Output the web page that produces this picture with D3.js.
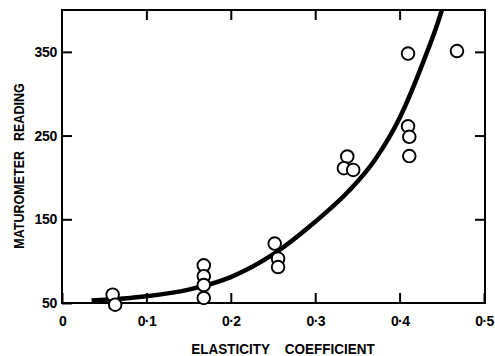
<!DOCTYPE html>
<html>
<head>
<meta charset="utf-8">
<script src="https://cdn.jsdelivr.net/npm/d3@7"></script>
<style>
  html, body { margin: 0; padding: 0; background: #fff; }
  svg { display: block; }
  text { font-family: "Liberation Sans", Arial, Helvetica, sans-serif; font-weight: bold; fill: #000; }
</style>
</head>
<body>
<svg id="chart" width="495" height="356"></svg>
<script>
// Measured samples: elasticity coefficient vs maturometer reading
const sampleX = [0.060, 0.063,
                 0.168, 0.168, 0.168, 0.168,
                 0.252, 0.256, 0.256,
                 0.338, 0.334, 0.345,
                 0.410, 0.468, 0.410, 0.4115, 0.4115];
const sampleY = [60, 48,
                 95, 82, 71.5, 56,
                 121, 103, 93,
                 225, 211, 209,
                 348, 351, 261, 248.5, 225.5];

// Fitted trend line (hand-read control points)
const fitX = [0.035, 0.10, 0.15, 0.20, 0.25, 0.30, 0.34, 0.37, 0.40, 0.428, 0.45, 0.455];
const fitY = [53,    58,   66,   81,   108,  147,  184,  220,  271,  338,   400,  418];

const xTicks = [0, 0.1, 0.2, 0.3, 0.4, 0.5];
const yTicks = [50, 150, 250, 350];

const svg = d3.select("#chart");
const plotL = 62, plotR = 484, plotT = 10, plotB = 303;

const x = d3.scaleLinear().domain([0, 0.5]).range([plotL, plotR]);
const y = d3.scaleLinear().domain([50, 400]).range([plotB, plotT]);

const fmtX = d => d === 0 ? "0" : d3.format(".1f")(d).replace(".", "\u00b7");

// clip for the trend line
svg.append("clipPath").attr("id", "plot-clip")
  .append("rect").attr("x", plotL).attr("y", plotT)
  .attr("width", plotR + 1 - plotL).attr("height", plotB - plotT);

// bottom axis with inward ticks and labels
const gx = svg.append("g").attr("transform", `translate(0,${plotB})`)
  .call(d3.axisBottom(x).tickValues(xTicks).tickFormat(fmtX)
        .tickSizeInner(-10).tickSizeOuter(0).tickPadding(13));
gx.select(".domain").remove();
gx.attr("font-family", null);
gx.selectAll("line").attr("stroke", "#000").attr("stroke-width", 2);
gx.selectAll("text").attr("font-size", 14).attr("letter-spacing", -0.6);

// top axis: ticks only
const gxt = svg.append("g").attr("transform", `translate(0,${plotT})`)
  .call(d3.axisTop(x).tickValues(xTicks.slice(1, -1)).tickFormat("")
        .tickSizeInner(-10).tickSizeOuter(0));
gxt.select(".domain").remove();
gxt.selectAll("line").attr("stroke", "#000").attr("stroke-width", 2);

// left axis with inward ticks and labels
const gy = svg.append("g").attr("transform", `translate(${plotL},0)`)
  .call(d3.axisLeft(y).tickValues(yTicks).tickFormat(d3.format("d"))
        .tickSizeInner(-10).tickSizeOuter(0).tickPadding(5));
gy.select(".domain").remove();
gy.attr("font-family", null);
gy.selectAll("line").attr("stroke", "#000").attr("stroke-width", 2);
gy.selectAll("text").attr("font-size", 14).attr("letter-spacing", -0.3);

// right axis: ticks only
const gyr = svg.append("g").attr("transform", `translate(${plotR + 1},0)`)
  .call(d3.axisRight(y).tickValues(yTicks.slice(1)).tickFormat("")
        .tickSizeInner(-10).tickSizeOuter(0));
gyr.select(".domain").remove();
gyr.selectAll("line").attr("stroke", "#000").attr("stroke-width", 2);

// plot frame
svg.append("rect")
  .attr("x", plotL).attr("y", plotT)
  .attr("width", plotR + 1 - plotL).attr("height", plotB - plotT)
  .attr("fill", "none").attr("stroke", "#000").attr("stroke-width", 2);

// trend line
const fitData = fitX.map((v, i) => [v, fitY[i]]);
svg.append("path")
  .datum(fitData)
  .attr("clip-path", "url(#plot-clip)")
  .attr("fill", "none").attr("stroke", "#000").attr("stroke-width", 4.5)
  .attr("stroke-linecap", "butt")
  .attr("d", d3.line().x(d => x(d[0])).y(d => y(d[1])).curve(d3.curveMonotoneX));

// sample points: open circles
const pts = sampleX.map((v, i) => [v, sampleY[i]]);
svg.append("g").selectAll("circle").data(pts).join("circle")
  .attr("cx", d => x(d[0])).attr("cy", d => y(d[1])).attr("r", 6.3)
  .attr("fill", "#fff").attr("stroke", "#000").attr("stroke-width", 1.9);

// axis titles
const xt = svg.append("text")
  .attr("transform", "translate(283,354) scale(1,1.12)")
  .attr("text-anchor", "middle").attr("font-size", 13.5);
xt.append("tspan").text("ELASTICITY");
xt.append("tspan").attr("dx", 15).text("COEFFICIENT");

const yt = svg.append("text")
  .attr("transform", "translate(24,166) rotate(-90) scale(1,1.12)")
  .attr("text-anchor", "middle").attr("font-size", 12.5);
yt.append("tspan").text("MATUROMETER");
yt.append("tspan").attr("dx", 10).text("READING");
</script>
</body>
</html>
